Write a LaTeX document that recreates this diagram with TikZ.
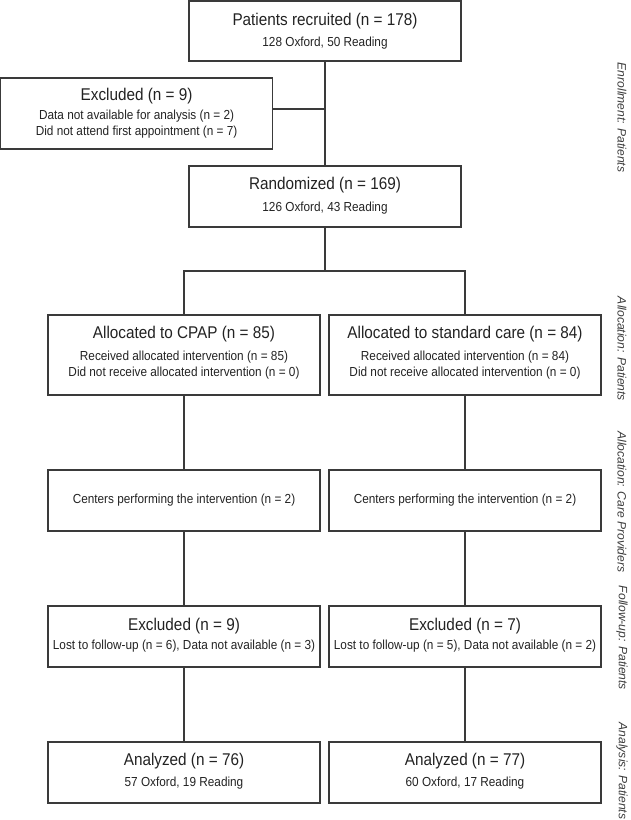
\documentclass[tikz,border=0pt]{standalone}
\usepackage{fontspec}
\setmainfont[FakeStretch=0.9]{Liberation Sans}
\newfontfamily\sidefont{Liberation Sans}
\definecolor{ln}{HTML}{3A3A3A}
\definecolor{tx}{HTML}{222222}
\definecolor{lb}{HTML}{3C3C3C}
\tikzset{
  box/.style={draw=ln, line width=1.1pt, minimum width=272pt, inner sep=0pt},
  conn/.style={draw=ln, line width=1.1pt},
  ttl/.style={text=tx, font=\fontsize{17}{19}\selectfont, inner sep=0pt},
  sub/.style={text=tx, font=\fontsize{13.1}{15}\selectfont, inner sep=0pt},
  side/.style={text=lb, font=\sidefont\fontsize{12.1}{14}\selectfont\itshape, rotate=-90, inner sep=0pt}
}
\begin{document}
\begin{tikzpicture}[x=1pt,y=-1pt]
\useasboundingbox (0,0) rectangle (630,820);
% boxes
\node[box, minimum height=60pt] (top) at (325,31) {};
\node[box, minimum height=71pt] (excl) at (136.6,113.5) {};
\node[box, minimum height=61pt] (rand) at (325,196.5) {};
\node[box, minimum height=80pt] (allocL) at (184,355) {};
\node[box, minimum height=80pt] (allocR) at (465,355) {};
\node[box, minimum height=61pt] (centL) at (184,500.5) {};
\node[box, minimum height=61pt] (centR) at (465,500.5) {};
\node[box, minimum height=61pt] (exL) at (184,636.5) {};
\node[box, minimum height=61pt] (exR) at (465,636.5) {};
\node[box, minimum height=61pt] (anL) at (184,772.5) {};
\node[box, minimum height=61pt] (anR) at (465,772.5) {};
% texts
\node[ttl] (topT) at (325,21) {Patients recruited (n = 178)};
\node[sub] (topS) at (325,43) {128 Oxford, 50 Reading};
\node[ttl] (exclT) at (136.6,96) {Excluded (n = 9)};
\node[sub] (exclS1) at (136.6,116) {Data not available for analysis (n = 2)};
\node[sub] (exclS2) at (136.6,132.5) {Did not attend first appointment (n = 7)};
\node[ttl] (randT) at (325,185) {Randomized (n = 169)};
\node[sub] (randS) at (325,208) {126 Oxford, 43 Reading};
\node[ttl] (allocLT) at (184,334) {Allocated to CPAP (n = 85)};
\node[sub] (allocLS1) at (184,357) {Received allocated intervention (n = 85)};
\node[sub] (allocLS2) at (184,373.5) {Did not receive allocated intervention (n = 0)};
\node[ttl] (allocRT) at (465,334) {Allocated to standard care (n = 84)};
\node[sub] (allocRS1) at (465,357) {Received allocated intervention (n = 84)};
\node[sub] (allocRS2) at (465,373.5) {Did not receive allocated intervention (n = 0)};
\node[sub] (centLT) at (184,500) {Centers performing the intervention (n = 2)};
\node[sub] (centRT) at (465,500) {Centers performing the intervention (n = 2)};
\node[ttl] (exLT) at (184,626) {Excluded (n = 9)};
\node[sub] (exLS) at (184,646) {Lost to follow-up (n = 6), Data not available (n = 3)};
\node[ttl] (exRT) at (465,626) {Excluded (n = 7)};
\node[sub] (exRS) at (465,646) {Lost to follow-up (n = 5), Data not available (n = 2)};
\node[ttl] (anLT) at (184,761) {Analyzed (n = 76)};
\node[sub] (anLS) at (184,783) {57 Oxford, 19 Reading};
\node[ttl] (anRT) at (465,761) {Analyzed (n = 77)};
\node[sub] (anRS) at (465,783) {60 Oxford, 17 Reading};
% connectors
\coordinate (j) at (325,109);
\coordinate (sp) at (325,271);
\draw[conn] (top.south) -- (rand.north);
\draw[conn] (excl.east |- j) -- (j);
\draw[conn] (rand.south) -- (sp);
\draw[conn] (allocL.north) |- (sp) -| (allocR.north);
\draw[conn] (allocL.south) -- (centL.north);
\draw[conn] (allocR.south) -- (centR.north);
\draw[conn] (centL.south) -- (exL.north);
\draw[conn] (centR.south) -- (exR.north);
\draw[conn] (exL.south) -- (anL.north);
\draw[conn] (exR.south) -- (anR.north);
% side labels
\node[side] (s1) at (622,117.5) {Enrollment: Patients};
\node[side] (s2) at (622,349) {Allocation: Patients};
\node[side] (s3) at (622,502) {Allocation: Care Providers};
\node[side] (s4) at (622,638) {Follow-up: Patients};
\node[side] (s5) at (622,771) {Analysis: Patients};
\end{tikzpicture}
\end{document}
